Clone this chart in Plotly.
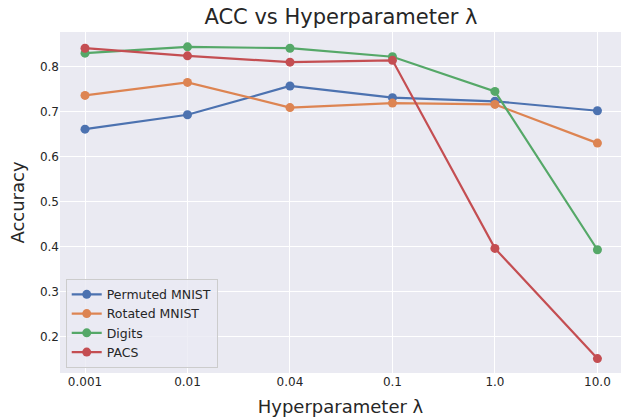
import plotly.graph_objects as go

lambdas = ["0.001", "0.01", "0.04", "0.1", "1.0", "10.0"]
permuted_mnist = [0.661, 0.693, 0.757, 0.731, 0.723, 0.702]
rotated_mnist = [0.736, 0.765, 0.709, 0.719, 0.716, 0.630]
digits = [0.830, 0.844, 0.841, 0.822, 0.745, 0.393]
pacs = [0.841, 0.824, 0.810, 0.814, 0.396, 0.151]

series = [
    ("Permuted MNIST", permuted_mnist, "#4C72B0"),
    ("Rotated MNIST", rotated_mnist, "#DD8452"),
    ("Digits", digits, "#55A868"),
    ("PACS", pacs, "#C44E52"),
]

FONT = "DejaVu Sans"
TXT = "#262626"

fig = go.Figure()
for name, vals, col in series:
    fig.add_trace(go.Scatter(
        x=lambdas, y=vals, name=name, mode="lines+markers",
        line=dict(color=col, width=2.2),
        marker=dict(color=col, size=9),
    ))

fig.update_layout(
    width=621, height=417,
    margin=dict(l=60, r=0, t=32, b=44),
    paper_bgcolor="white",
    plot_bgcolor="#EAEAF2",
    font=dict(family=FONT, color=TXT, size=12),
    title=dict(text="ACC vs Hyperparameter λ", x=341 / 621, xanchor="center",
               y=1 - 17 / 417, yanchor="middle", yref="container",
               font=dict(size=21, color=TXT, family=FONT)),
    xaxis=dict(
        type="category", categoryorder="array", categoryarray=lambdas,
        range=[-0.244, 5.23],
        showgrid=True, gridcolor="white", gridwidth=1.2,
        zeroline=False, showline=False, ticks="", automargin=False,
        tickfont=dict(size=12, color=TXT),
        title=dict(text="Hyperparameter λ", font=dict(size=18, color=TXT), standoff=14),
    ),
    yaxis=dict(
        range=[0.119, 0.877],
        tickvals=[0.2, 0.3, 0.4, 0.5, 0.6, 0.7, 0.8],
        ticktext=["0.2", "0.3", "0.4", "0.5", "0.6", "0.7", "0.8"],
        showgrid=True, gridcolor="white", gridwidth=1.2,
        zeroline=False, showline=False, ticks="", automargin=False,
        tickfont=dict(size=12, color=TXT),
        title=dict(text="Accuracy", font=dict(size=18, color=TXT), standoff=10),
    ),
    legend=dict(
        x=0.0102, y=0.0155, xanchor="left", yanchor="bottom",
        bgcolor="rgba(234,234,242,0.8)", bordercolor="#CCCCCC", borderwidth=1,
        font=dict(size=12.5, color=TXT, family=FONT),
        itemwidth=30, tracegroupgap=0,
    ),
    showlegend=True,
)

fig.write_html("out.html")
